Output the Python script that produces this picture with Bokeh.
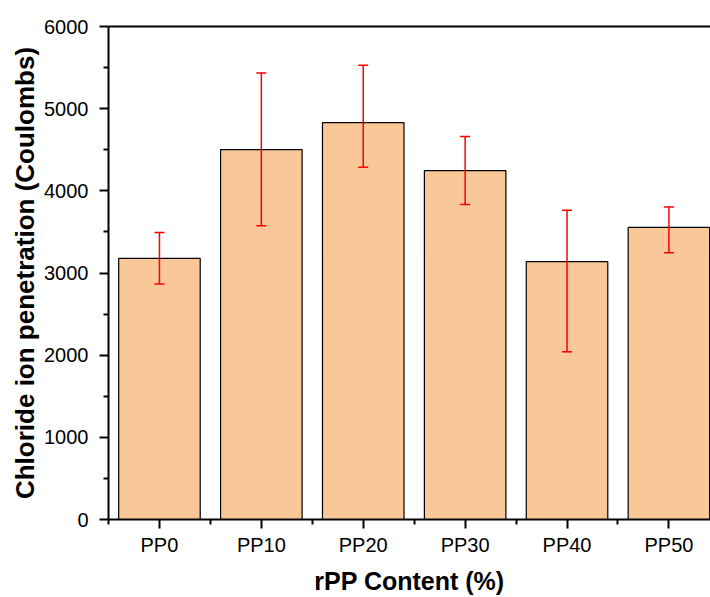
from bokeh.plotting import figure
from bokeh.models import (ColumnDataSource, Range1d, FixedTicker, LinearAxis,
                          Whisker, TeeHead)
from bokeh.embed import file_html
from bokeh.resources import INLINE

categories = ["PP0", "PP10", "PP20", "PP30", "PP40", "PP50"]
chloride = [3178, 4502, 4830, 4247, 3138, 3555]
err_upper = [3494, 5433, 5527, 4660, 3765, 3802]
err_lower = [2866, 3575, 4288, 3834, 2041, 3247]
y_ticks = [0, 1000, 2000, 3000, 4000, 5000, 6000]

xs = list(range(len(categories)))
src = ColumnDataSource(dict(x=xs, top=chloride, upper=err_upper, lower=err_lower))

FONT = "Liberation Sans"

p = figure(width=710, height=597, output_backend="svg", toolbar_location=None,
           x_range=Range1d(-0.5, 5.408), y_range=Range1d(0, 6000),
           min_border_left=108, min_border_right=0, min_border_top=26,
           min_border_bottom=77)
p.xgrid.visible = False
p.ygrid.visible = False
p.outline_line_color = None
p.background_fill_color = "white"
p.border_fill_color = "white"

p.vbar(x="x", top="top", width=0.8, source=src, fill_color="#FAC898",
       line_color="black", line_width=1.2)

wh = Whisker(source=src, base="x", upper="upper", lower="lower",
             line_color="red", line_width=1.5, level="overlay",
             upper_head=TeeHead(size=10, line_color="red", line_width=1.5),
             lower_head=TeeHead(size=10, line_color="red", line_width=1.5))
p.add_layout(wh)

# x axis
xa = p.xaxis[0]
xa.ticker = FixedTicker(ticks=xs, minor_ticks=[i - 0.5 for i in range(len(categories) + 1)])
xa.major_label_overrides = {i: c for i, c in enumerate(categories)}
xa.axis_label = "rPP Content (%)"

# y axis
ya = p.yaxis[0]
ya.ticker = FixedTicker(ticks=y_ticks, minor_ticks=[500, 1500, 2500, 3500, 4500, 5500])
ya.axis_label = "Chloride ion penetration (Coulombs)"

for ax in (xa, ya):
    ax.axis_line_width = 2
    ax.axis_line_color = "black"
    ax.major_tick_line_width = 2
    ax.minor_tick_line_width = 2
    ax.major_tick_line_color = "black"
    ax.minor_tick_line_color = "black"
    ax.major_tick_in = 0
    ax.major_tick_out = 9
    ax.minor_tick_in = 0
    ax.minor_tick_out = 5
    ax.major_label_text_font = FONT
    ax.major_label_text_font_size = "20px"
    ax.major_label_text_color = "black"
    ax.axis_label_text_font = FONT
    ax.axis_label_text_font_style = "bold"
    ax.axis_label_text_color = "black"

xa.major_label_standoff = 5
xa.axis_label_standoff = 8
xa.axis_label_text_font_size = "25px"
ya.major_label_standoff = 11
ya.axis_label_standoff = 1
ya.axis_label_text_font_size = "26px"

top_axis = LinearAxis(ticker=FixedTicker(ticks=[]), axis_line_width=2,
                      axis_line_color="black", major_tick_out=0, minor_tick_out=0,
                      major_label_text_font_size="0px")
p.add_layout(top_axis, "above")

open("out.html", "w").write(file_html(p, INLINE))
